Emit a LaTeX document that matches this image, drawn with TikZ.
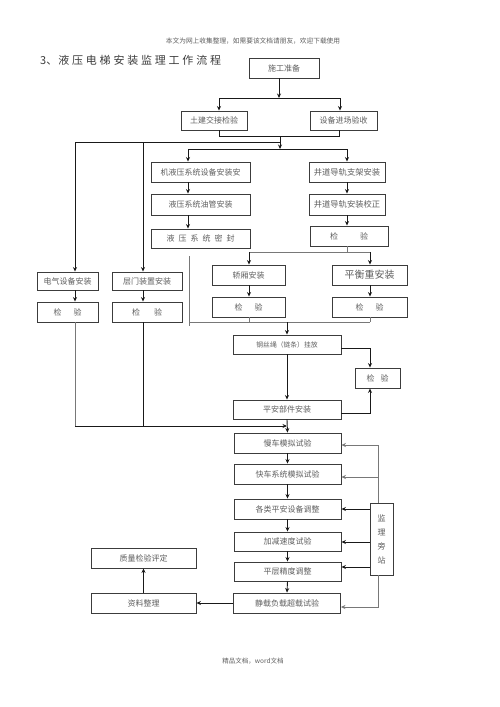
\documentclass[tikz,border=0pt]{standalone}
\usepackage{fontspec}
\setmainfont{Noto Sans CJK SC}
\usetikzlibrary{arrows.meta}
\definecolor{textc}{RGB}{95,95,95}
\definecolor{boxc}{RGB}{60,60,60}
\definecolor{linec}{RGB}{25,25,25}
\definecolor{thinc}{RGB}{120,120,120}
\newcommand\tsp{\hspace{2.8pt}}
\begin{document}
\begin{tikzpicture}[x=1pt,y=-1pt,
  box/.style={draw=boxc,line width=0.9pt,inner sep=0pt,text=textc,
    font=\fontsize{8}{10}\selectfont,align=center},
  lnk/.style={draw=linec,line width=0.9pt},
  arr/.style={lnk,-{Stealth[length=4.5pt,width=4pt]}},
  thin/.style={draw=thinc,line width=0.6pt},
  thinarr/.style={thin,-{Stealth[length=4.5pt,width=4pt]}}]
\useasboundingbox (0,0) rectangle (500,707);
\fill[white] (0,0) rectangle (500,707);

% header, title, footer
\node[text=textc,font=\fontsize{6.7}{8}\selectfont] (hdr) at (253,41) {本文为网上收集整理，如需要该文档请朋友，欢迎下载使用};
\node[text=boxc,font=\fontsize{11}{13}\selectfont,anchor=west,inner sep=0pt] (title) at (40,60)
  {3、\hspace{1pt}液\tsp 压\tsp 电\tsp 梯\tsp 安\tsp 装\tsp 监\tsp 理\tsp 工\tsp 作\tsp 流\tsp 程};
\node[text=textc,font=\fontsize{6.5}{8}\selectfont] (ftr) at (253,661) {精品文档，word文档};

% boxes
\node[box,minimum width=70pt,minimum height=20pt] (prep) at (284,68) {施工准备};
\node[box,minimum width=66pt,minimum height=19pt] (tj) at (214,120.5) {土建交接检验};
\node[box,minimum width=67pt,minimum height=19pt] (sb) at (343.5,120.5) {设备进场验收};

\node[box,minimum width=99pt,minimum height=20pt] (jy1) at (200.5,172) {机液压系统设备安装安};
\node[box,minimum width=99pt,minimum height=21pt] (jy2) at (200.5,204.5) {液压系统油管安装};
\node[box,minimum width=99pt,minimum height=19pt] (jy3) at (200.5,238.5) {液\hspace{4pt}压\hspace{4pt}系\hspace{4pt}统\hspace{4pt}密\hspace{4pt}封};

\node[box,minimum width=76pt,minimum height=20pt,font=\fontsize{8.3}{10}\selectfont] (jd1) at (347,172) {井道导轨支架安装};
\node[box,minimum width=76pt,minimum height=21pt,font=\fontsize{8.3}{10}\selectfont] (jd2) at (347,204.5) {井道导轨安装校正};
\node[box,minimum width=78pt,minimum height=20pt] (jd3) at (349,236) {检\hspace{22pt}验};

\node[box,minimum width=73pt,minimum height=20pt] (jx) at (248.5,275) {轿厢安装};
\node[box,minimum width=75pt,minimum height=20pt,font=\fontsize{10}{12}\selectfont] (ph) at (369.5,275) {平衡重安装};
\node[box,minimum width=73pt,minimum height=20pt] (jx2) at (248.5,307) {检\hspace{12pt}验};
\node[box,minimum width=75pt,minimum height=20pt] (ph2) at (369.5,307) {检\hspace{12pt}验};

\node[box,minimum width=61pt,minimum height=18pt] (dq) at (67.5,281) {电气设备安装};
\node[box,minimum width=70pt,minimum height=18pt] (cm) at (147,281) {层门装置安装};
\node[box,minimum width=61pt,minimum height=20pt] (dq2) at (67.5,312) {检\hspace{12pt}验};
\node[box,minimum width=70pt,minimum height=20pt] (cm2) at (147,312) {检\hspace{14pt}验};

\node[box,minimum width=108pt,minimum height=19pt,font=\fontsize{6.8}{9}\selectfont] (gs) at (287,344.5) {钢丝绳（链条）挂放};
\node[box,minimum width=45pt,minimum height=20pt] (jyr) at (377.5,378) {检\hspace{6pt}验};
\node[box,minimum width=108pt,minimum height=19pt] (pa) at (287,409.5) {平安部件安装};

\node[box,minimum width=107pt,minimum height=20pt] (mc) at (287.5,443) {慢车模拟试验};
\node[box,minimum width=107pt,minimum height=20pt] (kc) at (287.5,474) {快车系统模拟试验};
\node[box,minimum width=107pt,minimum height=20pt] (gl) at (287.5,509) {各类平安设备调整};
\node[box,minimum width=107pt,minimum height=19pt] (jj) at (287.5,541.5) {加减速度试验};
\node[box,minimum width=107pt,minimum height=19pt] (pc) at (287.5,571.5) {平层精度调整};
\node[box,minimum width=107pt,minimum height=20pt] (jz) at (287,603) {静载负载超载试验};
\node[box,minimum width=23pt,minimum height=72pt] (jl) at (381.5,539) {监\\[4pt]理\\[4pt]旁\\[4pt]站};

\node[box,minimum width=105pt,minimum height=20pt] (zl) at (143.5,603) {资料整理};
\node[box,minimum width=105pt,minimum height=20pt] (zp) at (143.5,558) {质量检验评定};

% coordinates
\coordinate (s1) at (279,98);
\coordinate (a1) at (219,98);
\coordinate (a2) at (340,98);
\coordinate (m1) at (219,136);
\coordinate (m2) at (339,136);
\coordinate (m3) at (280,136);
\coordinate (l1) at (280,142);
\coordinate (l0) at (75,142);
\coordinate (l2) at (143,142);
\coordinate (s2) at (280,149);
\coordinate (b1) at (188,149);
\coordinate (b2) at (347,149);
\coordinate (c0) at (347,252);
\coordinate (c1) at (249,252);
\coordinate (c2) at (370,252);
\coordinate (d0) at (189,322);
\coordinate (d1) at (249,322);
\coordinate (d2) at (370,322);
\coordinate (d3) at (287,322);
\coordinate (v0) at (189,256);
\coordinate (v1) at (189,326);
\coordinate (e1) at (370,348);
\coordinate (e2) at (370,413);
\coordinate (f0) at (75,426);
\coordinate (f1) at (143,426);
\coordinate (f2) at (287,426);
\coordinate (g0) at (378,445);
\coordinate (g1) at (378,477);
\coordinate (g5) at (378,607);
\coordinate (h2) at (370,509);
\coordinate (h3) at (370,542);
\coordinate (h4) at (370,567);

% top
\draw[arr] (prep.south -| s1) -- (s1);
\draw[lnk] (a1) -- (a2);
\draw[arr] (a1) -- (a1 |- tj.north);
\draw[arr] (a2) -- (a2 |- sb.north);
\draw[lnk] (tj.south -| m1) -- (m1) -- (m2) -- (sb.south -| m2);
\draw[arr] (m3) -- (s2);
\draw[lnk] (l1) -- (l0);
\draw[arr] (l0) -- (l0 |- dq.north);
\draw[arr] (l2) -- (l2 |- cm.north);
\draw[lnk] (b1) -- (b2);
\draw[arr] (b1) -- (b1 |- jy1.north);
\draw[arr] (b2) -- (b2 |- jd1.north);

% hydraulic / guide rail columns
\draw[arr] (jy1.south -| b1) -- (jy2.north -| b1);
\draw[arr] (jy2.south -| b1) -- (jy3.north -| b1);
\draw[arr] (jd1.south -| b2) -- (jd2.north -| b2);
\draw[arr] (jd2.south -| b2) -- (jd3.north -| b2);

% car / counterweight
\draw[thin] (jd3.south -| c0) -- (c0);
\draw[thin] (c1) -- (c2);
\draw[arr] (c1) -- (c1 |- jx.north);
\draw[arr] (c2) -- (c2 |- ph.north);
\draw[arr] (jx.south -| c1) -- (jx2.north -| c1);
\draw[arr] (ph.south -| c2) -- (ph2.north -| c2);
\draw[thin] (jx2.south -| d1) -- (d1);
\draw[thin] (ph2.south -| d2) -- (d2);
\draw[thin] (d0) -- (d2);
\draw[thin] (v0) -- (v1);
\draw[arr] (d3) -- (d3 |- gs.north);

% rope / safety
\draw[arr] (gs.south) -- (pa.north);
\draw[arr] (gs.east |- e1) -- (e1) -- (e1 |- jyr.north);
\draw[arr] (pa.east |- e2) -- (e2) -- (e2 |- jyr.south);

% left columns
\draw[arr] (dq.south -| l0) -- (dq2.north -| l0);
\draw[arr] (cm.south -| l2) -- (cm2.north -| l2);
\draw[thin] (dq2.south -| f0) -- (f0);
\draw[lnk] (cm2.south -| f1) -- (f1);
\draw[arr] (f0) -- (f2);
\draw[arr] (pa.south) -- (mc.north);

% test column
\draw[arr] (mc.south) -- (kc.north);
\draw[arr] (kc.south) -- (gl.north);
\draw[arr] (gl.south) -- (jj.north);
\draw[arr] (jj.south) -- (pc.north);
\draw[arr] (pc.south) -- (jz.north);

% supervision
\draw[thinarr] (jl.north -| g0) -- (g0) -- (mc.east |- g0);
\draw[thinarr] (g1) -- (kc.east |- g1);
\draw[arr] (h2) -- (gl.east |- h2);
\draw[arr] (h3) -- (jj.east |- h3);
\draw[arr] (h4) -- (pc.east |- h4);
\draw[thinarr] (jl.south -| g5) -- (g5) -- (jz.east |- g5);

% documents
\draw[arr] (jz.west) -- (zl.east);
\draw[arr] (zl.north) -- (zp.south);
\end{tikzpicture}
\end{document}
